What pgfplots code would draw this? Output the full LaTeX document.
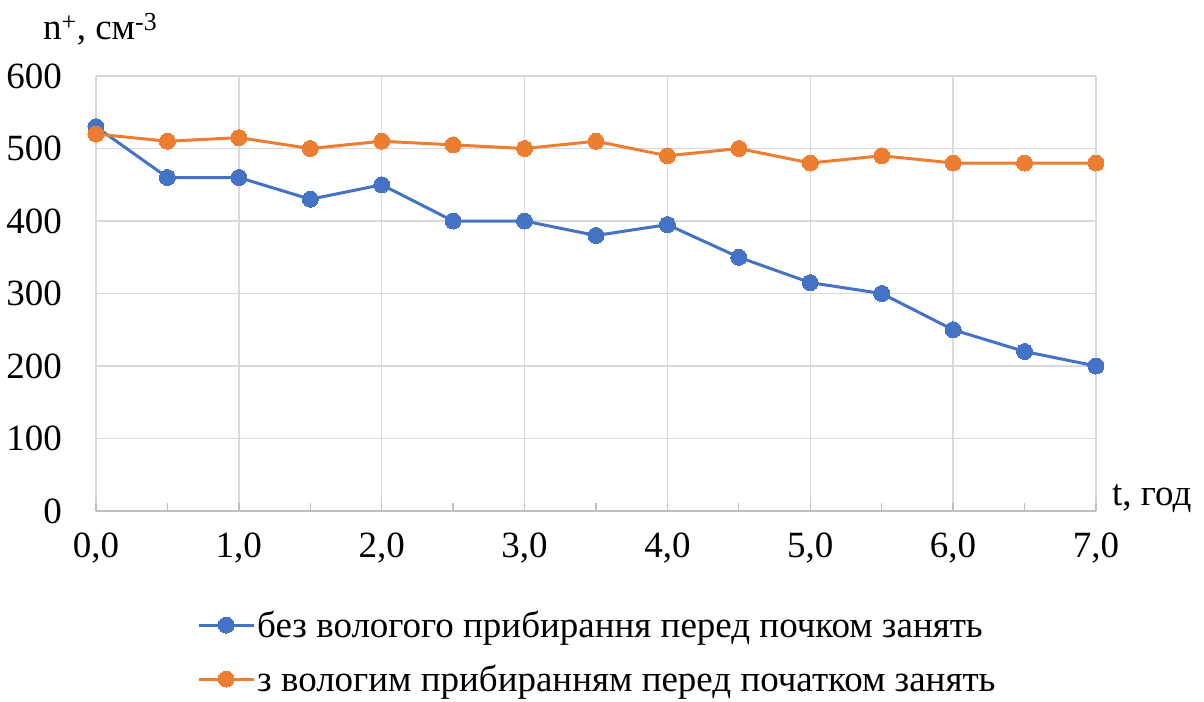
\documentclass[border=0pt]{standalone}
\usepackage{pgfplots}
\pgfplotsset{compat=1.18}
\usepackage{fontspec}
\setmainfont{Liberation Serif}
\definecolor{cblue}{RGB}{68,114,196}
\definecolor{corange}{RGB}{237,125,49}
\definecolor{gridgray}{RGB}{217,217,217}
\definecolor{axgray}{RGB}{191,191,191}
\newcommand{\bigfont}{\fontsize{37bp}{44bp}\selectfont}
\begin{document}
\begin{tikzpicture}[font=\bigfont]
\useasboundingbox (-96bp,-191bp) rectangle (1108bp,511bp);
\begin{axis}[
  at={(0,0)}, anchor=south west,
  scale only axis, width=1000bp, height=435bp,
  xmin=0, xmax=7, ymin=0, ymax=600,
  axis lines*=left,
  x axis line style={-, draw=axgray, line width=1.3bp},
  y axis line style={draw=none},
  xtick={0,1,...,7}, minor xtick={0.5,1.5,...,6.5},
  ytick={0,100,...,600},
  grid=major, major grid style={draw=gridgray, line width=1.3bp},
  tick align=inside,
  xtick style={draw=axgray, line width=1.3bp},
  major tick length=8bp, minor tick length=8bp,
  ytick style={draw=none},
  /pgf/number format/assume math mode=true,
  xticklabel style={font=\bigfont, anchor=north, inner sep=0pt, yshift=-22bp,
    /pgf/number format/.cd, fixed, fixed zerofill, precision=1, use comma},
  yticklabel style={font=\bigfont, anchor=east, inner sep=0pt, xshift=-34bp},
  clip=false,
  legend cell align=left,
  legend style={draw=none, fill=none, at={(axis description cs:0.101,-0.225)}, anchor=north west,
    inner sep=0pt, font=\bigfont, row sep=22bp},
  legend image code/.code={\draw[#1, mark repeat=2, mark phase=2] plot coordinates {(0bp,0bp) (27.5bp,0bp) (55bp,0bp)};},
]
\addplot[color=cblue, line width=3bp, mark=*, mark size=8bp, mark options={fill=cblue, draw=cblue, line width=0pt}]
coordinates {(0,530) (0.5,460) (1,460) (1.5,430) (2,450) (2.5,400) (3,400) (3.5,380) (4,395) (4.5,350) (5,315) (5.5,300) (6,250) (6.5,220) (7,200)};
\addlegendentry{без вологого прибирання перед почком занять}
\addplot[color=corange, line width=3bp, mark=*, mark size=8bp, mark options={fill=corange, draw=corange, line width=0pt}]
coordinates {(0,520) (0.5,510) (1,515) (1.5,500) (2,510) (2.5,505) (3,500) (3.5,510) (4,490) (4.5,500) (5,480) (5.5,490) (6,480) (6.5,480) (7,480)};
\addlegendentry{з вологим прибиранням перед початком занять}
\node[anchor=base west, inner sep=0pt, font=\bigfont] at (rel axis cs:0,1) [xshift=-53bp, yshift=37bp] {n\textsuperscript{+}, см\textsuperscript{-3}};
\node[anchor=base west, inner sep=0pt, font=\bigfont] at (rel axis cs:1,0) [xshift=16bp, yshift=6bp] {t, год};
\end{axis}
\end{tikzpicture}
\end{document}
